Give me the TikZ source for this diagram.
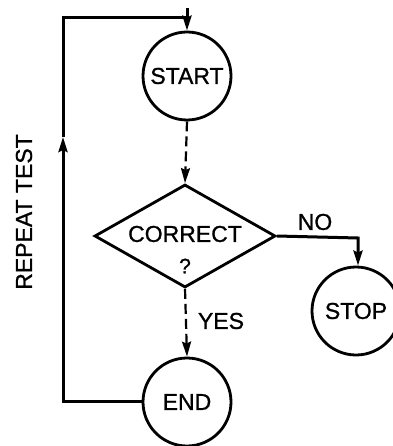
\documentclass[tikz,border=0pt]{standalone}
\usepackage{fontspec}
\setmainfont{Liberation Sans}
\newfontfamily\diagfam{Liberation Sans}[FakeBold=1]
\usetikzlibrary{shapes.geometric,arrows.meta}
\newcommand{\diagfont}{\diagfam\fontsize{23pt}{27pt}\selectfont}
\begin{document}
\begin{tikzpicture}[x=1pt,y=-1pt,font=\diagfont,
  term/.style={circle,draw,line width=2.8pt,minimum size=88pt,inner sep=0pt,font=\diagfont},
  decide/.style={diamond,draw,line width=2.8pt,minimum width=181pt,minimum height=103pt,inner sep=0pt,aspect=1.75},
  lbl/.style={inner sep=0pt,font=\diagfont},
  solidline/.style={line width=3pt},
  dashline/.style={line width=2.2pt,dash pattern=on 10pt off 5pt},
  tip/.style={-{Stealth[length=15pt,width=9pt,inset=2pt]}}
]
\useasboundingbox (0,0) rectangle (392,446);
\node[term] (start) at (187,76) {START};
\node[decide] (corr) at (185,236) {};
\node[lbl] (corrtxt) at (185,234) {CORRECT};
\node[lbl,font=\diagfam\fontsize{21pt}{24pt}\selectfont] (q) at (185,266) {?};
\node[term] (stop) at (356,311) {STOP};
\node[term] (end) at (187,402) {END};
\node[lbl] (no) at (315,222) {NO};
\node[lbl] (yes) at (221,321) {YES};
\node[lbl,rotate=90] (rep) at (24,212) {REPEAT TEST};
\coordinate (topin) at (187,8);
\coordinate (tl) at (63,18);
\coordinate (tr) at (187,18);
\coordinate (bl) at (63,401);
\coordinate (mid) at (63,137);
\coordinate (noturn) at (358,238);
% connectors
\draw[solidline,tip] (topin) -- (start.north);
\draw[solidline,line cap=rect] (tl) -- (tr);
\draw[solidline,line cap=rect] (end.west |- bl) -- (bl);
\draw[solidline,tip] (bl) -- (mid);
\draw[solidline] (mid) -- (tl);
\draw[dashline,tip] (start.south) -- (corr.north);
\draw[dashline,tip] (corr.south) -- (end.north);
\draw[solidline,tip] (corr.east) -- (noturn) -- (stop.north -| noturn);
\end{tikzpicture}
\end{document}
